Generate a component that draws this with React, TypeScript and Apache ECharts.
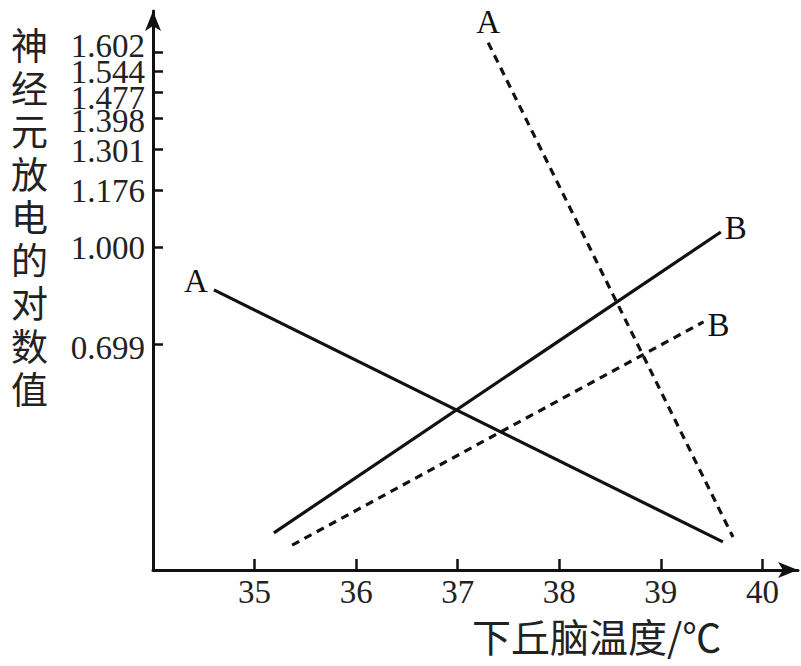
import React, { useEffect, useRef } from "react";
import * as echarts from "echarts";

const xTicks = [35, 36, 37, 38, 39, 40];
const yTicks = [0.699, 1.0, 1.176, 1.301, 1.398, 1.477, 1.544, 1.602];
// labels drawn on a second (overlaid) y axis so that crowded top labels are all kept
const yTicksAlt = [1.477, 1.602];
const solidA: number[][] = [[34.6, 0.867], [39.61, 0.087]];
const solidB: number[][] = [[35.19, 0.115], [39.59, 1.046]];
const dashedA: number[][] = [[37.3, 1.632], [39.71, 0.102]];
const dashedB: number[][] = [[35.37, 0.077], [39.42, 0.768]];
const yName = "神经元放电的对数值";
const xName = "下丘脑温度/℃";

const SERIF = "Liberation Serif";
const CJK = "'Noto Sans CJK SC', sans-serif";
const Y_MIN = 0;
const Y_MAX = 1.73;

// vertical nudge (px) of each y tick label relative to its tick, as in the reference
const yLabelShift = [4, 1, 1, 1, 3, 5, 1, -6];

function mk(
  name: string,
  pts: number[][],
  dashed: boolean,
  labelIdx: number,
  pos: string,
  offset: number[]
) {
  return {
    name,
    type: "line",
    yAxisIndex: 0,
    symbol: "circle",
    symbolSize: 0.1,
    showSymbol: true,
    itemStyle: { color: "#111" },
    lineStyle: {
      color: "#111",
      width: 3.2,
      type: dashed ? [8, 6] : "solid",
    },
    data: pts.map((p, i) =>
      i === labelIdx
        ? {
            value: p,
            label: {
              show: true,
              formatter: name,
              position: pos,
              distance: 4,
              offset,
              color: "#111",
              fontSize: 33,
              fontFamily: SERIF,
            },
          }
        : { value: p }
    ),
  };
}

const rich: Record<string, any> = {};
yTicks.forEach((_, i) => {
  const s = yLabelShift[i];
  rich["t" + i] = {
    fontSize: 33,
    fontFamily: SERIF,
    color: "#222",
    padding: s >= 0 ? [2 * s, 0, 0, 0] : [0, 0, -2 * s, 0],
  };
});

const fmt = (v: number) => {
  let idx = 0;
  let best = Infinity;
  yTicks.forEach((t, i) => {
    if (Math.abs(t - v) < best) {
      best = Math.abs(t - v);
      idx = i;
    }
  });
  return `{t${idx}|${v.toFixed(3)}}`;
};

export default function App() {
  const ref = useRef<HTMLDivElement>(null);
  useEffect(() => {
    const chart = echarts.init(ref.current!, null, { renderer: "svg" });
    const mainLabels = yTicks.filter((t) => !yTicksAlt.includes(t));
    chart.setOption({
      animation: false,
      backgroundColor: "#fff",
      grid: { left: 153, right: 3, top: 11, bottom: 96, containLabel: false },
      xAxis: {
        type: "value",
        min: 34,
        max: 40.35,
        interval: 1,
        axisLine: {
          show: true,
          onZero: false,
          symbol: ["none", "arrow"],
          symbolSize: [12, 20],
          lineStyle: { color: "#111", width: 3 },
        },
        axisTick: {
          show: true,
          inside: true,
          length: 11,
          customValues: xTicks,
          lineStyle: { color: "#111", width: 2.5 },
        },
        axisLabel: {
          customValues: xTicks,
          margin: 5,
          color: "#222",
          fontSize: 33,
          fontFamily: SERIF,
        },
        splitLine: { show: false },
      },
      yAxis: [
        {
          type: "value",
          min: Y_MIN,
          max: Y_MAX,
          position: "left",
          axisLine: {
            show: true,
            onZero: false,
            symbol: ["none", "arrow"],
            symbolSize: [12, 20],
            lineStyle: { color: "#111", width: 3 },
          },
          axisTick: {
            show: true,
            inside: true,
            length: 10,
            customValues: yTicks,
            lineStyle: { color: "#111", width: 2.5 },
          },
          axisLabel: {
            customValues: mainLabels,
            showMaxLabel: true,
            showMinLabel: true,
            hideOverlap: false,
            margin: 8,
            formatter: fmt,
            rich,
          },
          splitLine: { show: false },
        },
        {
          type: "value",
          min: Y_MIN,
          max: Y_MAX,
          position: "left",
          offset: 0,
          axisLine: { show: false },
          axisTick: { show: false },
          axisLabel: {
            customValues: yTicksAlt,
            showMaxLabel: true,
            showMinLabel: true,
            hideOverlap: false,
            margin: 8,
            formatter: fmt,
            rich,
          },
          splitLine: { show: false },
        },
      ],
      graphic: [
        {
          type: "text",
          left: 11,
          top: 22,
          style: {
            text: yName.split("").join("\n"),
            font: `37px ${CJK}`,
            lineHeight: 43,
            fill: "#222",
          },
        },
        {
          type: "text",
          left: 472,
          top: 615,
          style: {
            text: xName,
            font: `39px ${CJK}`,
            fill: "#222",
          },
        },
      ],
      series: [
        mk("A", solidA, false, 0, "left", [-2, -9]),
        mk("B", solidB, false, 1, "right", [0, -4]),
        mk("A", dashedA, true, 0, "top", [0, 0]),
        mk("B", dashedB, true, 1, "right", [0, 3]),
      ],
    });
    return () => chart.dispose();
  }, []);
  return (
    <div
      ref={ref}
      style={{ position: "fixed", left: 0, top: 0, width: 801, height: 666 }}
    />
  );
}
